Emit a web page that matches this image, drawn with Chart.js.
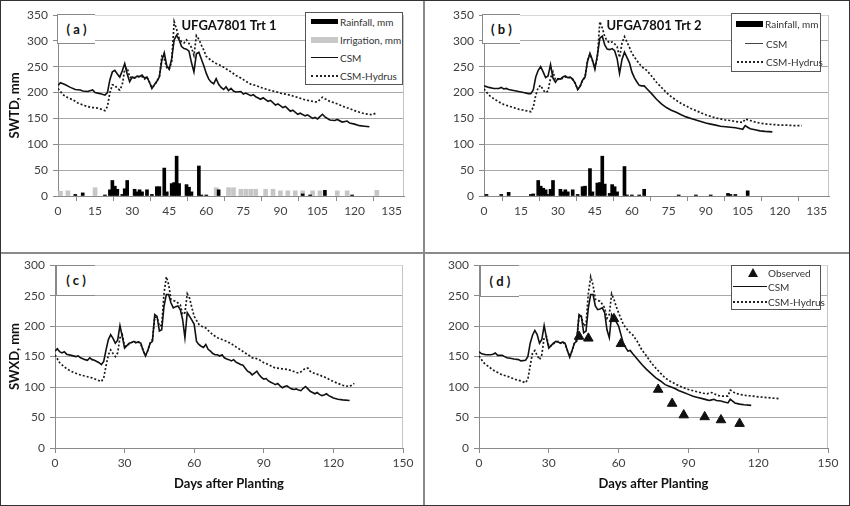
<!DOCTYPE html>
<html>
<head>
<meta charset="utf-8">
<script src="https://cdn.jsdelivr.net/npm/chart.js@4.4.1/dist/chart.umd.min.js"></script>
<style>
  body { margin: 0; background: #fff; font-family: Lato, "Open Sans", sans-serif; }
  #wrap { position: relative; width: 850px; height: 506px; overflow: hidden; background: #fff; }
  canvas { position: absolute; }
  .tag { position: absolute; background: #fff; border: 1px solid #8a8a8a; border-right: none;
         font: bold 13px Lato, sans-serif; color: #111; text-align: center; }
  .ttl { position: absolute; font: bold 13px Lato, sans-serif; color: #111; white-space: nowrap; transform: translateX(-50%); }
  .leg { position: absolute; background: #fff; border: 1px solid #555; }
  .leg span { position: absolute; font: 10px Lato, sans-serif; color: #333; white-space: nowrap; line-height: 12px; }
  .leg i { position: absolute; display: block; }
  .sep { position: absolute; background: #8a8a8a; }
</style>
</head>
<body>
<div id="wrap">
  <canvas id="ca" width="425" height="253" style="left:0;top:0"></canvas>
  <canvas id="cb" width="425" height="253" style="left:425px;top:0"></canvas>
  <canvas id="cc" width="425" height="253" style="left:0;top:253px"></canvas>
  <canvas id="cd" width="425" height="253" style="left:425px;top:253px"></canvas>

  <div class="tag" style="left:57px;top:14px;width:37px;height:28px;line-height:28px">( a )</div>
  <div class="tag" style="left:482px;top:14px;width:37px;height:28px;line-height:28px">( b )</div>
  <div class="tag" style="left:56px;top:265px;width:38px;height:29px;line-height:29px">( c )</div>
  <div class="tag" style="left:480px;top:265px;width:38px;height:30px;line-height:30px">( d )</div>

  <div class="ttl" style="left:229px;top:17px">UFGA7801 Trt 1</div>
  <div class="ttl" style="left:654px;top:17px">UFGA7801 Trt 2</div>

  <div class="leg" style="left:305px;top:12px;width:96px;height:71px">
    <i style="left:5px;top:6px;width:27px;height:5px;background:#000"></i><span style="left:34px;top:3px">Rainfall, mm</span>
    <i style="left:5px;top:24px;width:27px;height:6px;background:#c8c8c8"></i><span style="left:34px;top:21px">Irrigation, mm</span>
    <i style="left:5px;top:44px;width:27px;height:0;border-top:1.5px solid #111"></i><span style="left:34px;top:39px">CSM</span>
    <i style="left:5px;top:62px;width:27px;height:0;border-top:2px dotted #222"></i><span style="left:34px;top:57px">CSM-Hydrus</span>
  </div>

  <div class="leg" style="left:731px;top:13px;width:88px;height:57px">
    <i style="left:4px;top:7px;width:27px;height:6px;background:#000"></i><span style="left:33px;top:4px">Rainfall, mm</span>
    <i style="left:13px;top:29px;width:18px;height:0;border-top:1.2px solid #444"></i><span style="left:34px;top:24px">CSM</span>
    <i style="left:5px;top:47px;width:26px;height:0;border-top:2px dotted #222"></i><span style="left:34px;top:42px">CSM-Hydrus</span>
  </div>

  <div class="leg" style="left:731px;top:265px;width:88px;height:43px">
    <i style="left:16px;top:2px;width:0;height:0;border-left:5px solid transparent;border-right:5px solid transparent;border-bottom:9px solid #111"></i><span style="left:36px;top:1px">Observed</span>
    <i style="left:1px;top:20px;width:34px;height:0;border-top:1.5px solid #111"></i><span style="left:36px;top:15px">CSM</span>
    <i style="left:1px;top:35px;width:34px;height:0;border-top:2px dotted #222"></i><span style="left:36px;top:30px">CSM-Hydrus</span>
  </div>

  <div class="sep" style="left:423px;top:0;width:2px;height:506px"></div>
  <div class="sep" style="left:0;top:252px;width:850px;height:2px"></div>
  <div style="position:absolute;left:0;top:0;width:848px;height:504px;border:1px solid #333"></div>
</div>

<script>
// ---- panel (a) UFGA7801 Trt 1, SWTD ----
const aCsmDay = [0,1,3,5,7,9,10,12,14,15, 17,19,20,21,22,23,24,25,26,27, 28,29,30,31,32,33,34,35,36,37,
  38,39,40,41,42,43,44,45,46,47, 48,49,50,51,52,53,54,55,56,57, 58,59,60,61,62,63,64,65,66,67,
  68,69,70,71,72,74,75,76,78,79, 80,82,83,85,86,88,89,91,92,94, 95,97,98,100,101,103,104,105,107,108,
  110,112,113,115,117,118,120,122,124,126];
const aCsmVal = [214,219,215,210,206,205,203,202,205,200, 198,195,200,225,240,243,236,230,242,256, 236,221,230,228,232,231,234,228,230,220,
  208,215,222,230,262,277,252,245,265,302, 311,302,289,285,284,280,258,240,275,278, 265,252,237,226,220,217,227,216,210,206,
  211,204,208,203,201,202,197,199,194,196, 192,187,190,183,185,176,178,171,173,164, 166,158,160,155,157,150,152,149,158,153,
  147,146,148,143,145,141,139,136,135,134];
const aHydDay = [0,2,4,6,8,10,12,14,16,18, 19,20,21,22,23,24,25,26,27,28, 29,30,31,32,33,34,35,36,37,38,
  39,40,41,42,43,44,45,46,47,48, 49,50,51,52,53,54,55,56,57,58, 59,60,62,64,66,68,70,72,74,76,
  78,80,82,84,86,88,90,92,94,96, 98,100,102,104,105,107,108,110,112,114, 116,118,120,122,124,126,127,129];
const aHydVal = [208,196,190,186,180,176,173,171,170,167, 165,173,200,215,214,208,205,215,245,248, 230,228,229,230,231,231,226,230,220,210,
  214,222,230,270,265,248,245,260,337,322, 305,298,296,302,295,287,272,310,303,292, 282,270,262,256,252,246,240,233,228,222,
  216,214,210,207,204,202,199,197,195,192, 189,186,184,182,182,191,188,183,180,176, 172,169,165,162,159,158,157,161];
const aRainDay = [7,10,19,21,22,23,24,26,27,28,31,32,33,34,36,38,40,41,43,44,46,47,48,49,52,53,54,57,58,60,65,99,102,108,119];
const aRainVal = [3,6,2,12,30,19,13,3,14,30,13,8,12,8,12,3,18,18,54,8,24,26,77,24,22,17,8,58,2,2,12,4,2,11,2];
const aIrrDay = [1,4,15,64,69,71,74,76,78,80,84,87,90,93,96,99,103,106,113,117,129];
const aIrrVal = [9,10,16,16,16,16,13,13,13,13,13,13,10,10,10,10,10,10,10,10,11];

// ---- panel (b) UFGA7801 Trt 2, SWTD ----
const bCsmDay = [0,2,4,6,7,8,9,10,12,14, 16,18,19,20,21,22,23,24,25,26, 27,28,29,30,31,32,33,34,35,36,
  37,38,39,40,41,42,43,44,45,46, 47,48,49,50,51,52,53,54,55,56, 57,58,59,60,61,62,63,64,65,66,
  68,70,72,74,76,78,80,82,84,86, 88,90,92,94,96,98,100,102,104,105, 106,107,108,110,112,114,117];
const bCsmVal = [213,210,208,208,210,207,208,206,204,202, 200,198,198,205,230,243,250,240,229,232, 254,228,220,227,226,230,232,229,230,226,
  218,206,212,224,230,260,276,263,245,272, 305,309,292,284,283,285,281,266,237,264, 278,268,258,240,229,221,214,213,213,208,
  198,187,178,171,166,162,157,153,150,147, 144,141,139,137,135,134,133,132,130,129, 136,133,130,128,126,125,124];
const bHydDay = [0,2,4,6,8,10,12,14,16,18, 19,20,21,22,23,24,25,26,27,28, 29,30,31,32,33,34,35,36,37,38,
  39,40,41,42,43,44,45,46,47,48, 49,50,51,52,53,54,55,56,57,58, 59,60,62,64,66,68,70,72,74,76,
  78,80,82,84,86,88,90,92,94,96, 98,100,102,104,105,106,108,110,112,115, 118,120,123,126,129];
const bHydVal = [207,195,188,182,177,174,171,168,166,164, 163,172,195,210,214,205,200,203,228,240, 225,226,225,228,230,228,229,225,218,206,
  212,224,230,262,274,262,248,268,337,325, 308,300,296,298,294,289,268,296,308,298, 288,276,262,250,243,232,220,210,200,192,
  185,179,174,169,165,161,157,154,151,149, 147,146,144,143,142,149,146,143,141,139, 138,137,137,136,136];
const bRainDay = [1,7,10,19,20,22,23,24,25,26,27,28,31,32,33,34,36,38,40,41,43,44,46,47,48,49,51,52,53,54,57,58,60,63,65,79,86,92,99,100,102,107];
const bRainVal = [3,3,7,3,4,30,19,15,12,3,13,30,13,8,12,8,12,3,18,19,53,8,25,26,77,23,5,22,18,8,57,2,2,2,13,2,2,2,5,3,3,10];

// ---- panel (c) SWXD, Trt 1 ----
const cCsmDay = [0,1,2,3,4,5,7,9,10,11, 13,14,15,16,17,19,20,21,22,23, 24,25,26,27,28,29,30,31,32,33,
  34,35,36,37,38,39,40,41,42,43, 44,45,46,47,48,49,50,51,52,53, 54,55,56,57,58,59,60,61,62,63,
  64,65,66,67,68,69,70,71,72,73, 74,75,76,77,78,79,80,81,82,83, 84,85,86,87,88,89,90,91,92,93,
  94,95,96,97,98,99,100,101,102,103, 104,105,106,107,108,109,110,111,112,113, 114,115,116,117,118,119,120,122,124,127];
const cCsmVal = [159,163,158,156,158,154,152,150,151,148, 145,144,148,145,144,140,137,142,161,178, 186,180,172,177,201,183,164,168,172,173,
  175,173,174,172,160,151,160,172,175,219, 216,192,194,233,252,252,238,230,232,233, 227,211,181,222,216,210,203,175,170,167,
  165,170,162,159,155,153,153,151,153,148, 146,145,143,145,141,139,137,136,131,126, 124,120,123,126,120,116,113,114,110,108,
  106,104,106,102,99,101,102,99,97,96, 97,95,94,98,101,97,93,91,89,91, 88,86,87,89,86,84,82,80,79,78];
const cHydDay = [0,2,4,6,8,10,12,14,16,18, 20,21,22,23,24,25,26,27,28,29, 30,31,32,33,34,35,36,37,38,39,
  40,41,42,43,44,45,46,47,48,49, 50,51,52,53,54,55,56,57,58,59, 60,62,64,65,66,68,70,72,74,76,
  78,80,82,84,85,86,88,90,92,94, 95,96,98,100,102,104,105,106,108,109, 110,112,114,115,116,118,120,122,124,125, 127,129];
const cHydVal = [153,140,133,128,124,121,119,117,115,112, 109,115,135,153,161,155,150,156,181,186, 167,168,171,173,175,172,174,170,160,152,
  160,172,178,215,214,200,202,254,281,268, 244,242,241,238,235,219,222,253,246,230, 216,203,198,197,193,186,181,178,175,171,
  166,161,156,151,148,148,145,140,137,133, 131,131,130,129,127,124,123,125,131,131, 126,122,120,118,117,113,109,106,103,102, 101,106];

// ---- panel (d) SWXD, Trt 2 ----
const dCsmDay = [0,1,2,3,5,6,7,8,10,11, 12,14,15,17,18,20,21,22,23,24, 25,26,27,28,29,30,31,32,33,34,
  35,36,37,38,39,40,41,42,43,44, 45,46,47,48,49,50,51,52,53,54, 55,56,57,58,59,60,61,62,63,64,
  65,66,68,70,72,74,76,78,80,82, 84,86,88,90,92,94,96,98,99,100, 101,102,104,105,107,108,109,110,112,114, 117];
const dCsmVal = [158,155,154,153,153,154,156,152,152,150, 148,147,146,145,143,144,150,172,185,193, 186,172,178,201,181,164,168,172,175,174,
  172,174,172,160,149,160,172,175,219,216, 189,192,230,252,252,233,227,228,230,222, 194,181,219,213,207,200,186,172,165,159,
  160,155,146,137,129,122,115,110,104,101, 98,94,91,88,85,83,81,79,78,79, 80,78,77,76,74,80,77,74,72,71, 70];
const dHydDay = [0,2,4,6,8,10,12,14,16,18, 20,21,22,23,24,25,26,27,28,29, 30,31,32,33,34,35,36,37,38,39,
  40,41,42,43,44,45,46,47,48,49, 50,51,52,53,54,55,56,57,58,59, 60,62,64,65,66,68,70,72,74,76,
  78,80,82,84,86,88,90,92,94,96, 98,100,101,103,105,107,108,109,110,112, 115,118,120,123,126,129];
const dHydVal = [151,140,134,128,124,120,118,115,112,110, 107,113,135,156,160,152,145,153,181,183, 167,168,171,174,175,172,174,170,160,150,
  160,172,178,218,216,200,204,254,281,268, 244,242,241,236,230,213,219,253,244,232, 222,203,193,189,186,175,161,151,140,131,
  123,115,110,106,102,99,96,94,92,90, 89,91,89,86,85,85,95,93,90,88, 86,85,84,83,82,81];
const dObsDay = [43,47,58,61,77,83,88,97,104,112];
const dObsVal = [183,180,212,171,96,73,54,51,46,40];

// ---- helpers ----
const FONT = 'Lato';
const pts = (d, v) => d.map((x, i) => ({ x: x, y: v[i] }));
const solid = (d, v) => ({ type: 'line', data: pts(d, v), borderColor: '#111', borderWidth: 1.6, pointRadius: 0, order: 1 });
const dotted = (d, v) => ({ type: 'line', data: pts(d, v), borderColor: '#1a1a1a', borderWidth: 1.7, borderDash: [2, 2], pointRadius: 0, order: 1 });
const bars = (d, v, c, w) => ({ type: 'bar', data: pts(d, v), backgroundColor: c, barThickness: w, grouped: false, order: 3 });
const tri = (d, v) => ({ type: 'line', data: pts(d, v), showLine: false, pointStyle: 'triangle', pointRadius: 5.5,
  pointBackgroundColor: '#111', pointBorderColor: '#111', order: 0 });

const rightEdge = {
  id: 'rightEdge',
  beforeDatasetsDraw(chart) {
    const { ctx, chartArea: a } = chart;
    ctx.save();
    ctx.strokeStyle = '#c4c4c4';
    ctx.lineWidth = 1;
    ctx.beginPath();
    ctx.moveTo(a.right - 0.5, a.top);
    ctx.lineTo(a.right - 0.5, a.bottom);
    ctx.stroke();
    ctx.restore();
  }
};

function panel(id, o) {
  const W = 425, H = 253;
  new Chart(document.getElementById(id), {
    type: 'line',
    data: { datasets: o.datasets },
    options: {
      responsive: false,
      animation: false,
      layout: { padding: { left: 0, top: o.top, right: W - o.right, bottom: 0 } },
      plugins: { legend: { display: false }, tooltip: { enabled: false } },
      scales: {
        x: {
          type: 'linear', min: 0, max: o.xMax, offset: false,
          ticks: { stepSize: o.xStep, includeBounds: false, maxRotation: 0, autoSkip: false,
                   color: '#404040', font: { family: FONT, size: 12 }, padding: 3 },
          grid: { drawOnChartArea: false, tickLength: 5, color: '#8a8a8a' },
          border: { color: '#8a8a8a' },
          title: o.xTitle ? { display: true, text: o.xTitle, color: '#111',
                   font: { family: FONT, size: 13, weight: 'bold' }, padding: { top: 0, bottom: 14 } } : { display: false },
          afterFit: s => { s.height = H - o.bottom; }
        },
        y: {
          min: 0, max: o.yMax,
          ticks: { stepSize: 50, color: '#404040', font: { family: FONT, size: 12 }, padding: 5 },
          grid: { tickLength: 5, tickColor: '#8a8a8a',
                  color: c => (c.tick && c.tick.value === o.yMax) ? '#d6d6d6' : '#a8a8a8' },
          border: { color: '#8a8a8a' },
          title: o.yTitle ? { display: true, text: o.yTitle, color: '#111',
                   font: { family: FONT, size: 13, weight: 'bold' }, padding: { top: 7, bottom: 0 } } : { display: false },
          afterFit: s => { s.width = o.left; }
        }
      }
    },
    plugins: [rightEdge]
  });
}

panel('ca', {
  left: 58, right: 404, top: 15, bottom: 196, xMax: 140, xStep: 15, yMax: 350, yTitle: 'SWTD, mm',
  datasets: [bars(aRainDay, aRainVal, '#000', 3), bars(aIrrDay, aIrrVal, '#c6c6c6', 4),
             solid(aCsmDay, aCsmVal), dotted(aHydDay, aHydVal)]
});
panel('cb', {
  left: 59, right: 404, top: 15, bottom: 196, xMax: 140, xStep: 15, yMax: 350,
  datasets: [bars(bRainDay, bRainVal, '#000', 3), solid(bCsmDay, bCsmVal), dotted(bHydDay, bHydVal)]
});
panel('cc', {
  left: 55, right: 403, top: 12, bottom: 195, xMax: 150, xStep: 30, yMax: 300, yTitle: 'SWXD, mm', xTitle: 'Days after Planting',
  datasets: [solid(cCsmDay, cCsmVal), dotted(cHydDay, cHydVal)]
});
panel('cd', {
  left: 54, right: 403, top: 12, bottom: 195, xMax: 150, xStep: 30, yMax: 300, xTitle: 'Days after Planting',
  datasets: [tri(dObsDay, dObsVal), solid(dCsmDay, dCsmVal), dotted(dHydDay, dHydVal)]
});
</script>
</body>
</html>
